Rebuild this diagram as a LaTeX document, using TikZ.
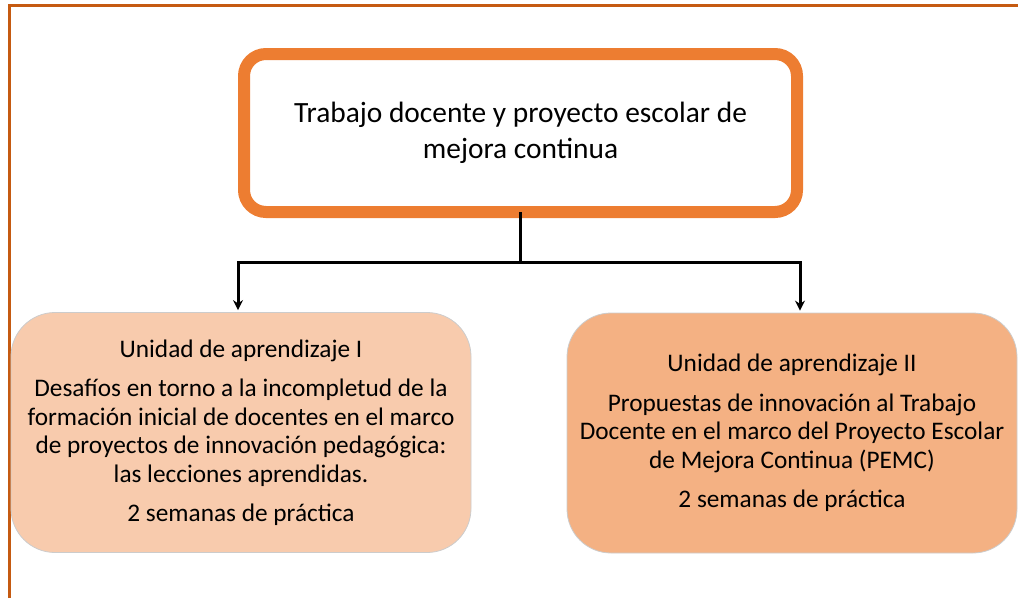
\documentclass[tikz,border=0pt]{standalone}
\usepackage{fontspec}
\setmainfont{Carlito}
\usepackage{tikz}
\usetikzlibrary{arrows.meta,calc}
\definecolor{marco}{HTML}{C55A11}
\definecolor{naranja}{HTML}{ED7D31}
\definecolor{durazno}{HTML}{F8CBAD}
\definecolor{salmon}{HTML}{F4B183}

\begin{document}
\begin{tikzpicture}[x=1pt,y=-1pt,
	tema/.style={draw=naranja,line width=12pt,rounded corners=22pt,fill=white,
		minimum width=553pt,minimum height=158pt,align=center,
		font=\fontsize{29.4}{36}\selectfont},
	unidad/.style={draw=black!20,line width=0.8pt,rounded corners=44pt,
		minimum height=240pt,align=center,font=\fontsize{25.3}{28.5}\selectfont},
	liga/.style={line width=3pt,-{Stealth[length=10pt,width=10pt]}}]
	\useasboundingbox (0,0) rectangle (1018,598);
	%frame
	\draw[marco,line width=3pt] (9,598)--(9,5)--(1018,5);
	
	%top box
	\node[tema] (tema) at (520.5,133) {Trabajo docente y proyecto escolar de\\mejora continua};
	
	%units
	\node[unidad,fill=durazno,minimum width=460pt] (unidadI) at (241,432.5)
		{Unidad de aprendizaje I\\[11pt]
		Desafíos en torno a la incompletud de la\\
		formación inicial de docentes en el marco\\
		de proyectos de innovación pedagógica:\\
		las lecciones aprendidas.\\[11pt]
		2 semanas de práctica};
	\node[unidad,fill=salmon,minimum width=450pt] (unidadII) at (792,433)
		{Unidad de aprendizaje II\\[11pt]
		Propuestas de innovación al Trabajo\\
		Docente en el marco del Proyecto Escolar\\
		de Mejora Continua (PEMC)\\[11pt]
		2 semanas de práctica};
	
	%connectors
	\coordinate (horquilla) at ($(tema.south)+(0,44)$);
	\draw[line width=3pt] ([yshift=6pt]tema.south) -- (horquilla);
	\draw[liga] (horquilla) -| ([xshift=-3pt,yshift=2pt]unidadI.north);
	\draw[liga] (horquilla) -| ([xshift=8pt,yshift=2pt]unidadII.north);
\end{tikzpicture}
\end{document}
